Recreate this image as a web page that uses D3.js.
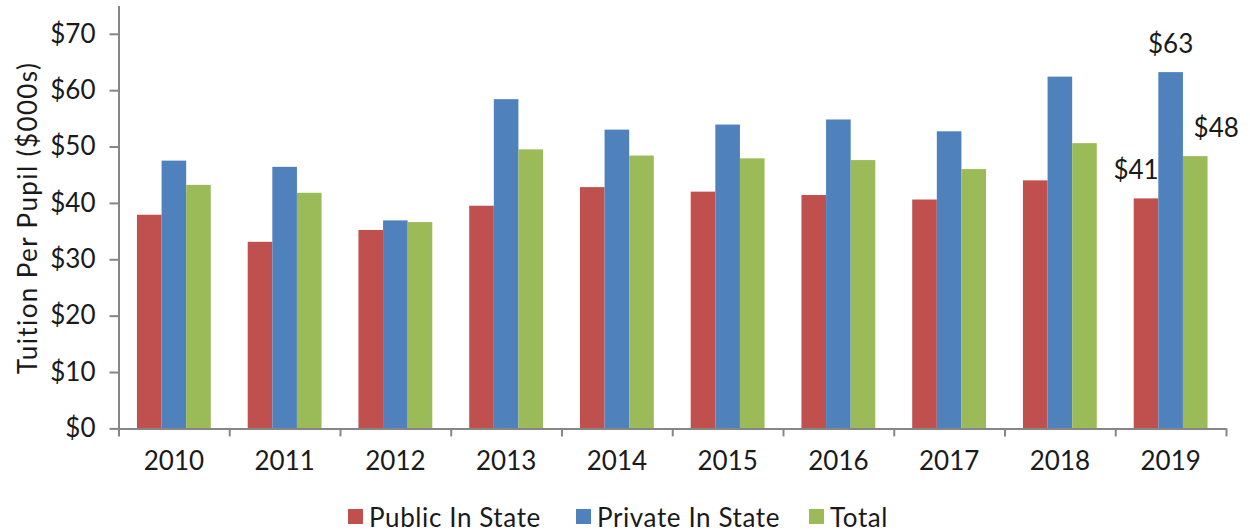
<html>
<head>
  <title>Tuition Per Pupil</title>
  <script src="https://cdnjs.cloudflare.com/ajax/libs/d3/7.8.5/d3.min.js"></script>
  <style>
    body { margin: 0; background: #fff; }
    text { font-family: Lato, "Open Sans", sans-serif; fill: #1a1a1a; }
  </style>
</head>
<body>
<script type="text/javascript">
  // data ($000s)
  var years = ["2010", "2011", "2012", "2013", "2014", "2015", "2016", "2017", "2018", "2019"];
  var seriesNames = ["Public In State", "Private In State", "Total"];
  var publicInState = [37.9, 33.1, 35.2, 39.5, 42.8, 42.0, 41.4, 40.6, 44.0, 40.8];
  var privateInState = [47.5, 46.4, 36.9, 58.4, 53.0, 53.9, 54.8, 52.7, 62.4, 63.2];
  var total = [43.2, 41.8, 36.6, 49.5, 48.4, 47.9, 47.6, 46.0, 50.6, 48.3];
  var yTicks = [0, 10, 20, 30, 40, 50, 60, 70];
  var colors = ["#C0504D", "#4F81BD", "#9BBB59"];

  var width = 1250, height = 531;
  var plotLeft = 118.5, plotRight = 1226, plotTop = 5.6, plotBottom = 428.4;

  var svg = d3.select("body")
    .append("svg")
    .attr("width", width)
    .attr("height", height);

  var series = [publicInState, privateInState, total];

  var x0 = d3.scaleBand().domain(years).range([plotLeft, plotRight]).padding(0);
  var bw = x0.bandwidth();
  // Excel-like gap width 150%
  var x1 = d3.scaleBand().domain(d3.range(3)).range([bw / 6, bw * 5 / 6]).padding(0);
  var y = d3.scaleLinear().domain([0, 75]).range([plotBottom, plotTop]);

  // bars
  var groups = svg.selectAll("g.year")
    .data(years)
    .enter().append("g")
    .attr("class", "year")
    .attr("transform", function (d) { return "translate(" + x0(d) + ",0)"; });

  groups.selectAll("rect")
    .data(function (d, i) { return series.map(function (s, k) { return { k: k, v: s[i] }; }); })
    .enter().append("rect")
    .attr("x", function (d) { return x1(d.k); })
    .attr("width", x1.bandwidth())
    .attr("y", function (d) { return y(d.v); })
    .attr("height", function (d) { return plotBottom - y(d.v); })
    .attr("fill", function (d) { return colors[d.k]; });

  // y axis
  var yAxis = svg.append("g")
    .attr("transform", "translate(" + plotLeft + ",0)")
    .call(d3.axisLeft(y).tickValues(yTicks).tickFormat(function (d) { return "$" + d; })
      .tickSize(9).tickSizeOuter(0).tickPadding(14));
  yAxis.selectAll("text").style("font-size", "26px").style("font-family", "Lato").style("fill", "#1a1a1a");

  // x axis: ticks at category edges, labels at centers
  var xEdge = d3.scaleLinear().domain([0, years.length]).range([plotLeft, plotRight]);
  svg.append("g")
    .attr("transform", "translate(0," + plotBottom + ")")
    .call(d3.axisBottom(xEdge).tickValues(d3.range(years.length + 1)).tickFormat("")
      .tickSize(8).tickSizeOuter(0));
  var xLab = svg.append("g")
    .attr("transform", "translate(0," + plotBottom + ")")
    .call(d3.axisBottom(x0).tickSize(0).tickPadding(23));
  xLab.select(".domain").remove();
  xLab.selectAll("text").style("font-size", "26px").style("font-family", "Lato").style("fill", "#1a1a1a");

  svg.selectAll(".domain, .tick line").attr("stroke", "#868686").attr("stroke-width", 2);

  // y axis title
  svg.append("text")
    .attr("transform", "translate(37,218) rotate(-90)")
    .attr("text-anchor", "middle")
    .style("font-size", "26px")
    .style("letter-spacing", "1.4px")
    .text("Tuition Per Pupil ($000s)");

  // labels on 2019 bars
  var last = years.length - 1;
  var labelOffsets = [-10, 0, 21];
  series.forEach(function (s, k) {
    svg.append("text")
      .attr("x", x0(years[last]) + x1(k) + x1.bandwidth() / 2 + labelOffsets[k])
      .attr("y", y(s[last]) - 19)
      .attr("text-anchor", "middle")
      .style("font-size", "26px")
      .text("$" + Math.round(s[last]));
  });

  // legend
  var legendX = [348, 576, 809];
  var legend = svg.selectAll("g.legend")
    .data(seriesNames)
    .enter().append("g")
    .attr("class", "legend")
    .attr("transform", function (d, i) { return "translate(" + legendX[i] + ",509)"; });
  legend.append("rect")
    .attr("width", 15).attr("height", 15)
    .attr("fill", function (d, i) { return colors[i]; });
  legend.append("text")
    .attr("x", 21).attr("y", 18)
    .style("font-size", "26px")
    .style("letter-spacing", "0.6px")
    .text(function (d) { return d; });
</script>
</body>
</html>
